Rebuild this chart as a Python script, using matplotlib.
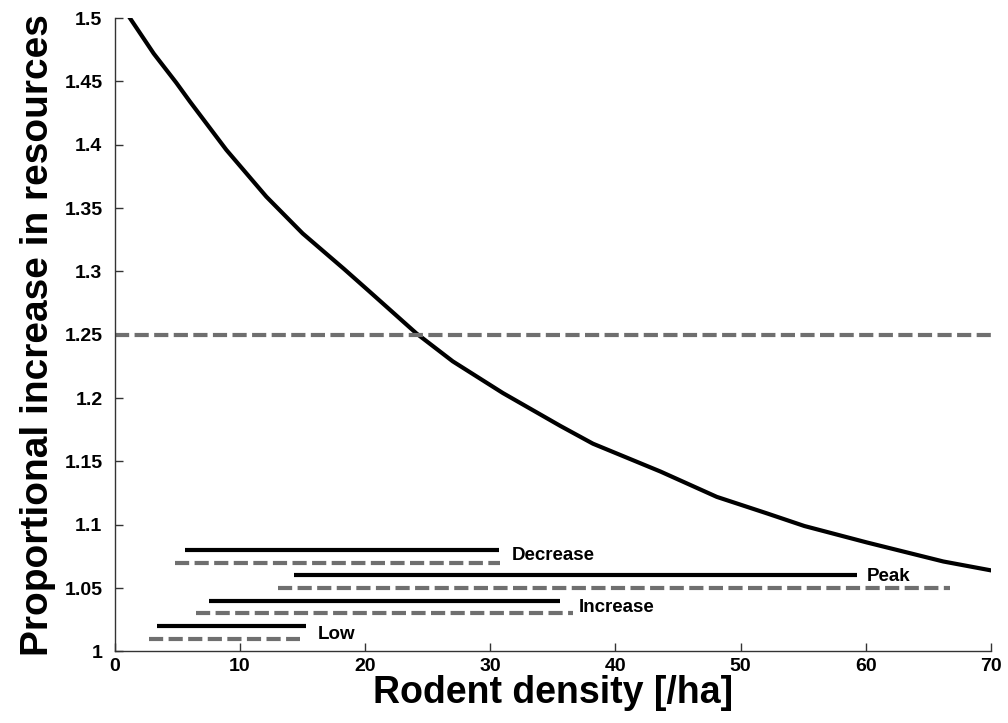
import matplotlib.pyplot as plt
from matplotlib.ticker import FixedLocator, FuncFormatter

plt.rcParams['font.family'] = ['Liberation Sans', 'DejaVu Sans']

# curve
density = [1.2, 3.1, 4.9, 6.0, 8.9, 12.1, 15.0, 18.3, 20.3, 24.1, 27.0, 31.0,
           35.6, 38.2, 43.6, 48.1, 52.1, 55.1, 60.1, 66.2, 70.0]
increase = [1.5, 1.472, 1.449, 1.434, 1.396, 1.359, 1.330, 1.302, 1.2845, 1.251,
            1.229, 1.204, 1.178, 1.164, 1.142, 1.122, 1.109, 1.099, 1.086, 1.071,
            1.064]

threshold = 1.25

# phase ranges: solid (black) and dashed (grey)
phases = ["Decrease", "Peak", "Increase", "Low"]
solid_lo = [5.6, 14.3, 7.5, 3.4]
solid_hi = [30.7, 59.3, 35.6, 15.3]
solid_y = [1.08, 1.06, 1.04, 1.02]
dash_lo = [4.8, 13.0, 6.5, 2.7]
dash_hi = [30.8, 66.7, 36.6, 14.8]
dash_y = [1.07, 1.05, 1.03, 1.01]
label_x = [31.7, 60.1, 37.1, 16.2]
label_y = [1.0755, 1.0595, 1.0345, 1.013]

grey = '#6f6f6f'
dash = (3.4, 1.3)

fig = plt.figure(figsize=(10.08, 7.23), dpi=100)
ax = fig.add_axes([0.114, 0.099, 0.869, 0.876])

ax.plot(density, increase, color='black', lw=3)
ax.plot([0, 70], [threshold, threshold], color=grey, lw=3, dashes=dash)

for i, name in enumerate(phases):
    ax.plot([solid_lo[i], solid_hi[i]], [solid_y[i], solid_y[i]], color='black', lw=3,
            solid_capstyle='butt')
    ax.plot([dash_lo[i], dash_hi[i]], [dash_y[i], dash_y[i]], color=grey, lw=3,
            dashes=dash, dash_capstyle='butt')
    ax.text(label_x[i], label_y[i], name, fontsize=13.5, fontweight='bold',
            va='center', ha='left')

ax.set_xlim(0, 70)
ax.set_ylim(1, 1.5)
ax.xaxis.set_major_locator(FixedLocator(range(0, 71, 10)))
ax.yaxis.set_major_locator(FixedLocator([1 + 0.05 * k for k in range(11)]))
ax.yaxis.set_major_formatter(FuncFormatter(lambda v, p: f"{v:.2f}".rstrip('0').rstrip('.')))

for s in ['top', 'right']:
    ax.spines[s].set_visible(False)
for s in ['left', 'bottom']:
    ax.spines[s].set_linewidth(1)
    ax.spines[s].set_color('#333333')

ax.tick_params(direction='in', length=6, width=1, labelsize=14, color='#333333')
ax.tick_params(axis='y', pad=9)
ax.tick_params(axis='x', pad=5)
for lab in ax.get_xticklabels() + ax.get_yticklabels():
    lab.set_fontweight('bold')

ax.set_xlabel("Rodent density [/ha]", fontsize=27, fontweight='bold', labelpad=0)
ax.set_ylabel("Proportional increase in resources", fontsize=28, fontweight='bold',
              labelpad=6)

fig.savefig("out.png", dpi=100)
